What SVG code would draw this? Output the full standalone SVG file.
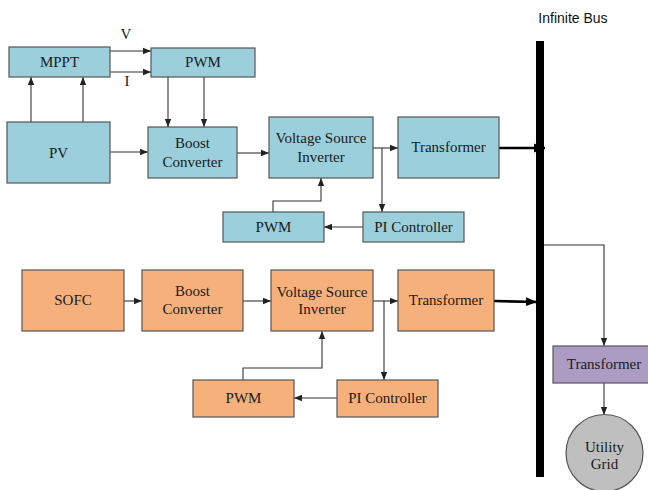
<svg xmlns="http://www.w3.org/2000/svg" width="648" height="490" viewBox="0 0 648 490">
<defs>
<style>
.blue{fill:#9CCFDC;stroke:#555;stroke-width:1.2}
.orange{fill:#F6B07C;stroke:#555;stroke-width:1.2}
.purple{fill:#AC9CC4;stroke:#555;stroke-width:1.2}
.grid{fill:#BFBFBF;stroke:#555;stroke-width:1.2}
text{font-family:"Liberation Serif","Times New Roman",serif;font-size:15px;fill:#1a1a1a;text-anchor:middle}
.sans{font-family:"Liberation Sans",Arial,sans-serif;font-size:14px;fill:#111}
.c{fill:none;stroke:#333;stroke-width:1.1}
.thick{fill:none;stroke:#000;stroke-width:2.6}
</style>
<marker id="ah" viewBox="0 0 10 10" refX="10" refY="5" markerWidth="8" markerHeight="8" markerUnits="userSpaceOnUse" orient="auto"><path d="M0,1 L10,5 L0,9 Z" fill="#222"/></marker>
<marker id="ahb" viewBox="0 0 10 10" refX="10" refY="5" markerWidth="11" markerHeight="11" markerUnits="userSpaceOnUse" orient="auto"><path d="M0,1 L10,5 L0,9 Z" fill="#000"/></marker>
</defs>
<rect width="648" height="490" fill="#fff"/>

<g id="bus">
<rect x="536" y="41" width="8" height="436" fill="#000"/>
<text class="sans" x="573" y="23">Infinite Bus</text>
</g>

<g id="connectors">
<path class="c" d="M110,51 H151" marker-end="url(#ah)"/>
<path class="c" d="M110,72 H151" marker-end="url(#ah)"/>
<path class="c" d="M31,122 V77" marker-end="url(#ah)"/>
<path class="c" d="M83,122 V77" marker-end="url(#ah)"/>
<path class="c" d="M168,77 V127" marker-end="url(#ah)"/>
<path class="c" d="M204,77 V127" marker-end="url(#ah)"/>
<path class="c" d="M110,152 H148" marker-end="url(#ah)"/>
<path class="c" d="M237,153 H269" marker-end="url(#ah)"/>
<path class="c" d="M373,148 H398" marker-end="url(#ah)"/>
<path class="c" d="M382,148 V212" marker-end="url(#ah)"/>
<path class="c" d="M363,227 H324" marker-end="url(#ah)"/>
<path class="c" d="M273,212 V201 H321 V178" marker-end="url(#ah)"/>
<path class="thick" d="M499,148 H545" marker-end="url(#ahb)"/>

<path class="c" d="M124,301 H142" marker-end="url(#ah)"/>
<path class="c" d="M243,301 H271" marker-end="url(#ah)"/>
<path class="c" d="M373,301 H398" marker-end="url(#ah)"/>
<path class="c" d="M384,301 V380" marker-end="url(#ah)"/>
<path class="c" d="M337,398 H294" marker-end="url(#ah)"/>
<path class="c" d="M243,380 V368 H322 V331" marker-end="url(#ah)"/>
<path class="thick" d="M494,301 L537,302" marker-end="url(#ahb)"/>

<path class="c" d="M544,245 H604 V346" marker-end="url(#ah)"/>
<path class="c" d="M604,383 V415" marker-end="url(#ah)"/>
</g>

<g id="labels">
<text x="126" y="39">V</text>
<text x="127" y="86">I</text>
</g>

<g id="mppt"><rect class="blue" x="9" y="47" width="101" height="30"/><text x="59.5" y="67">MPPT</text></g>
<g id="pwm1"><rect class="blue" x="151" y="48" width="104" height="29"/><text x="203" y="67">PWM</text></g>
<g id="pv"><rect class="blue" x="7" y="122" width="103" height="61"/><text x="58.5" y="158">PV</text></g>
<g id="boost1"><rect class="blue" x="148" y="127" width="89" height="51"/><text x="192.5" y="148">Boost</text><text x="192.5" y="167">Converter</text></g>
<g id="vsi1"><rect class="blue" x="269" y="117" width="104" height="61"/><text x="321" y="143">Voltage Source</text><text x="321" y="162">Inverter</text></g>
<g id="trans1"><rect class="blue" x="398" y="117" width="101" height="61"/><text x="448.5" y="152">Transformer</text></g>
<g id="pi1"><rect class="blue" x="363" y="212" width="101" height="30"/><text x="413.5" y="232">PI Controller</text></g>
<g id="pwm2"><rect class="blue" x="223" y="212" width="101" height="30"/><text x="273.5" y="232">PWM</text></g>

<g id="sofc"><rect class="orange" x="22" y="270" width="102" height="61"/><text x="73" y="305">SOFC</text></g>
<g id="boost2"><rect class="orange" x="142" y="270" width="101" height="61"/><text x="192.5" y="296">Boost</text><text x="192.5" y="314">Converter</text></g>
<g id="vsi2"><rect class="orange" x="271" y="270" width="102" height="61"/><text x="322" y="297">Voltage Source</text><text x="322" y="314">Inverter</text></g>
<g id="trans2"><rect class="orange" x="398" y="270" width="96" height="61"/><text x="446" y="305">Transformer</text></g>
<g id="pi2"><rect class="orange" x="337" y="380" width="101" height="37"/><text x="387.5" y="403">PI Controller</text></g>
<g id="pwm3"><rect class="orange" x="193" y="380" width="101" height="37"/><text x="243.5" y="403">PWM</text></g>

<g id="trans3"><rect class="purple" x="553" y="346" width="96" height="37"/><text x="604" y="369">Transformer</text></g>
<g id="utility"><circle class="grid" cx="604.5" cy="453" r="38.5"/><text x="604.5" y="452">Utility</text><text x="604.5" y="469">Grid</text></g>
</svg>
